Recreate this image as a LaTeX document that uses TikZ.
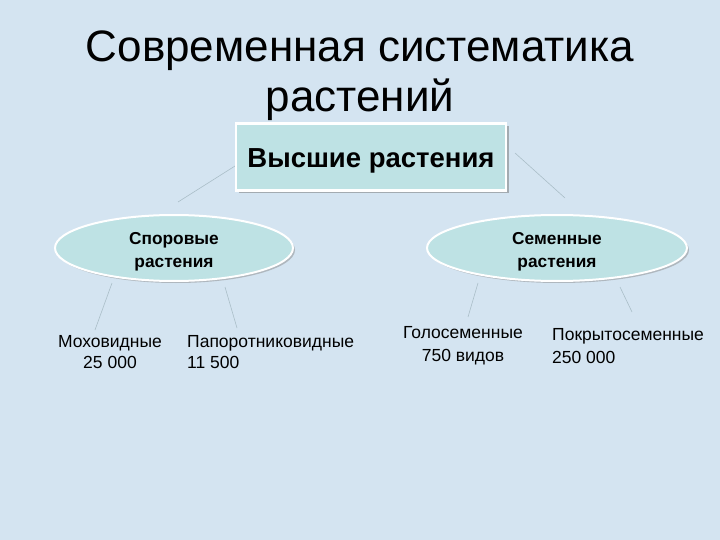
\documentclass[tikz,border=0pt]{standalone}
\usepackage{fontspec}
\setmainfont{Liberation Sans}
\usetikzlibrary{shapes.geometric,shadows}
\definecolor{bg}{RGB}{212,228,241}
\definecolor{boxfill}{RGB}{190,226,228}
\definecolor{linec}{RGB}{170,190,200}
\tikzset{
  x=1pt,y=-1pt,
  topbox/.style={draw=white,line width=2.5pt,fill=boxfill,minimum width=270pt,minimum height=67pt,
    drop shadow={shadow xshift=3pt,shadow yshift=-3pt,fill=black!55}},
  toptext/.style={font=\bfseries\fontsize{27.5}{32}\selectfont,yshift=-4pt},
  oval/.style={ellipse,draw=white,line width=2pt,fill=boxfill,inner sep=0pt,
    drop shadow={shadow xshift=2pt,shadow yshift=-2pt,fill=black!45}},
  ovaltext/.style={font=\bfseries\fontsize{17.3}{23}\selectfont,align=center,yshift=-4pt},
  leaf/.style={font=\fontsize{17.5}{21}\selectfont,inner sep=0pt},
  conn/.style={draw=linec,line width=0.6pt},
}
\begin{document}
\begin{tikzpicture}
\useasboundingbox (0,0) rectangle (720,540);
\fill[bg] (0,0) rectangle (720,540);
\node[text=black,font=\fontsize{44}{50}\selectfont,align=center] (title) at (360,76)
  {Современная систематика\\растений};
% connectors (behind shapes)
\coordinate (t1) at (235,166);
\coordinate (tl) at (178,202);
\coordinate (t2) at (515,153);
\coordinate (tr) at (565,198);
\draw[conn] (t1) -- (tl);
\draw[conn] (t2) -- (tr);
\node[topbox,label={[toptext]center:Высшие растения}] (top) at (371,157) {};
\node[oval,minimum width=238pt,minimum height=66pt,
  label={[ovaltext]center:Споровые\\растения}] (spore) at (174,248) {};
\node[oval,minimum width=260pt,minimum height=66pt,
  label={[ovaltext]center:Семенные\\растения}] (seed) at (557,248) {};
\node[leaf,align=center] (moss) at (110,352) {Моховидные\\25 000};
\node[leaf,align=left,anchor=west] (fern) at (187,352) {Папоротниковидные\\11 500};
\node[leaf,align=center,font=\fontsize{17.5}{23}\selectfont] (gymn) at (463,346) {Голосеменные\\750 видов};
\node[leaf,align=left,anchor=west,font=\fontsize{17.5}{23}\selectfont] (angio) at (552,346) {Покрытосеменные\\250 000};
\coordinate (m1) at (112,283);
\coordinate (m2) at (95,330);
\coordinate (f1) at (225,287);
\coordinate (f2) at (237,328);
\coordinate (g1) at (478,283);
\coordinate (g2) at (468,317);
\coordinate (a1) at (620,287);
\coordinate (a2) at (632,312);
\draw[conn] (m1) -- (m2);
\draw[conn] (f1) -- (f2);
\draw[conn] (g1) -- (g2);
\draw[conn] (a1) -- (a2);
\end{tikzpicture}
\end{document}
